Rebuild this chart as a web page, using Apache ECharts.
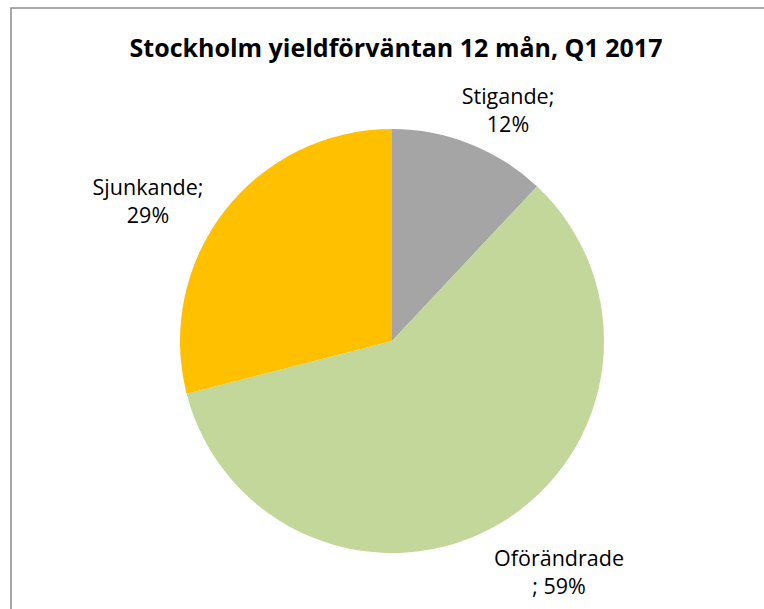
<!DOCTYPE html>
<html>
<head>
<meta charset="utf-8">
<script src="https://cdn.jsdelivr.net/npm/echarts@6/dist/echarts.min.js"></script>
<style>
  html, body { margin: 0; padding: 0; background: #fff; }
  #chart { width: 764px; height: 609px; }
</style>
</head>
<body>
<div id="chart"></div>
<script>
(function() {
  var titleText = 'Stockholm yieldförväntan 12 mån, Q1 2017';
  var categories = ['Stigande', 'Oförändrade', 'Sjunkande'];
  var shares = [12, 59, 29];
  var labelTexts = ['Stigande;\n12%', 'Oförändrade\n; 59%', 'Sjunkande;\n29%'];
  var colors = ['#A5A5A5', '#C4D79B', '#FFC000'];

  // label centres, Excel-style manual placement
  var labelPos = [[508, 109], [559, 571], [148, 200]];

  var chart = echarts.init(document.getElementById('chart'), null, { renderer: 'svg' });

  chart.setOption({
    backgroundColor: '#fff',
    animation: false,
    title: {
      text: titleText,
      left: 391,
      textAlign: 'center',
      top: 29,
      textStyle: { fontFamily: 'Open Sans', fontWeight: 'bold', fontSize: 25, color: '#000' }
    },
    graphic: [{
      type: 'rect',
      shape: { x: 11, y: 8, width: 800, height: 700 },
      style: { fill: 'none', stroke: '#8c8c8c', lineWidth: 1.5 },
      silent: true
    }],
    series: [{
      type: 'pie',
      center: [392, 341],
      radius: 212,
      startAngle: 90,
      clockwise: true,
      data: categories.map(function(c, i) {
        return { name: c, value: shares[i], itemStyle: { color: colors[i] } };
      }),
      label: {
        show: true,
        position: 'outside',
        formatter: function(p) { return labelTexts[p.dataIndex]; },
        fontFamily: 'Open Sans',
        fontSize: 21.5,
        lineHeight: 28,
        color: '#000',
        align: 'center'
      },
      labelLine: { show: false },
      labelLayout: function(params) {
        var pos = labelPos[params.dataIndex];
        return { x: pos[0], y: pos[1], align: 'center', verticalAlign: 'middle' };
      },
      emphasis: { disabled: true }
    }]
  });

  window.addEventListener('resize', function() { chart.resize(); });
})();
</script>
</body>
</html>
